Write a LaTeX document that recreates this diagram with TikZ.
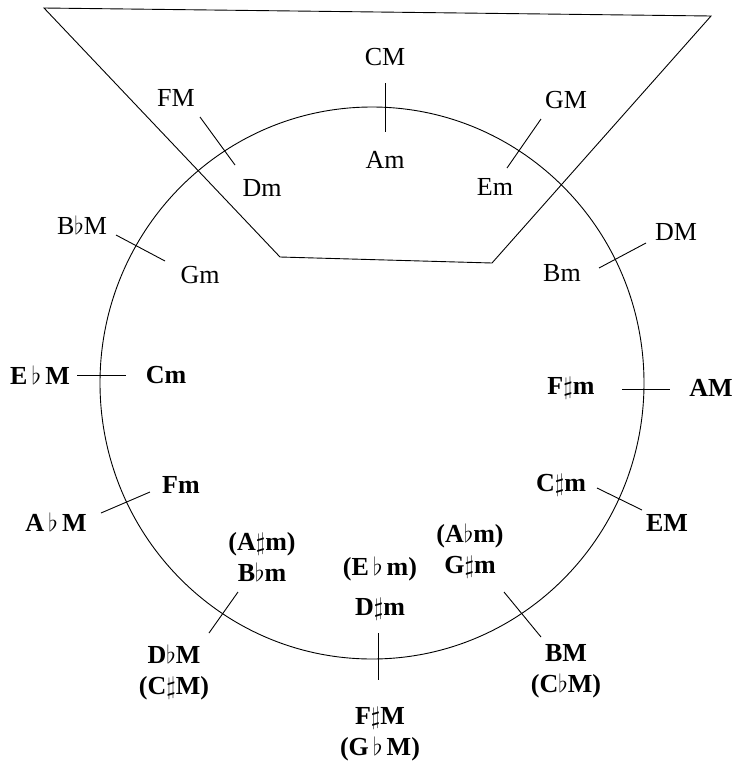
\documentclass[tikz,border=0pt]{standalone}
\usepackage{fontspec}
\setmainfont{Liberation Serif}
\begin{document}
\begin{tikzpicture}[x=1pt,y=-1pt,
  lab/.style={inner sep=0pt,align=center,font=\fontsize{26}{31}\selectfont},
  labb/.style={lab,font=\fontsize{26}{31}\selectfont\bfseries},
  ln/.style={line width=0.9pt,black}]
\useasboundingbox (0,0) rectangle (736,769);
% window trapezoid
\coordinate (t1) at (44,8);
\coordinate (t2) at (711,16);
\coordinate (t3) at (492,263);
\coordinate (t4) at (280,257);
\draw[ln] (t1) -- (t2) -- (t3) -- (t4) -- cycle;
% circle
\draw[ln] (372,383) ellipse [x radius=272pt, y radius=276pt];
% labels
\node[lab] (CM) at (385,57) {CM};
\node[lab] (Am) at (385,160) {Am};
\node[lab] (FM) at (176,98) {FM};
\node[lab] (Dm) at (262,188) {Dm};
\node[lab] (GM) at (566,100) {GM};
\node[lab] (Em) at (495,187) {Em};
\node[lab] (BbM) at (82,225) {B$\flat$M};
\node[lab] (Gm) at (200,275) {Gm};
\node[lab] (DM) at (676,232) {DM};
\node[lab] (Bm) at (562,273) {Bm};
\node[labb] (EbM) at (40,375) {E$\,\flat\,$M};
\node[labb] (Cm) at (166,375) {Cm};
\node[labb] (Fsm) at (571,388) {F$\sharp$m};
\node[labb] (AM) at (711,388) {AM};
\node[labb] (Fm) at (181,485) {Fm};
\node[labb] (AbM) at (56,522) {A$\,\flat\,$M};
\node[labb] (Csm) at (561,485) {C$\sharp$m};
\node[labb] (EM) at (667,523) {EM};
\node[labb] (Bbm) at (262,557) {(A$\sharp$m)\\B$\flat$m};
\node[labb] (Gsm) at (470,551) {(A$\flat$m)\\G$\sharp$m};
\node[labb] (Ebm) at (380,569) {(E$\,\flat\,$m)};
\node[labb] (Dsm) at (380,609) {D$\sharp$m};
\node[labb] (DbM) at (174,672) {D$\flat$M\\(C$\sharp$M)};
\node[labb] (BM) at (566,671) {BM\\(C$\flat$M)};
\node[labb] (FsM) at (380,734) {F$\sharp$M\\(G$\,\flat\,$M)};
% ticks
\coordinate (a1) at (385,83);  \coordinate (a2) at (385,132);
\coordinate (b1) at (200,117); \coordinate (b2) at (235,165);
\coordinate (c1) at (541,119); \coordinate (c2) at (507,168);
\coordinate (d1) at (116,235); \coordinate (d2) at (165,261);
\coordinate (e1) at (646,243); \coordinate (e2) at (599,268);
\coordinate (f1) at (77,375);  \coordinate (f2) at (126,375);
\coordinate (g1) at (622,389); \coordinate (g2) at (670,389);
\coordinate (h1) at (150,492); \coordinate (h2) at (101,513);
\coordinate (i1) at (597,488); \coordinate (i2) at (642,510);
\coordinate (j1) at (238,592); \coordinate (j2) at (209,633);
\coordinate (k1) at (504,592); \coordinate (k2) at (541,637);
\coordinate (l1) at (378,633); \coordinate (l2) at (378,680);
\foreach \p in {a,b,c,d,e,f,g,h,i,j,k,l}{\draw[ln] (\p1) -- (\p2);}
\end{tikzpicture}
\end{document}
